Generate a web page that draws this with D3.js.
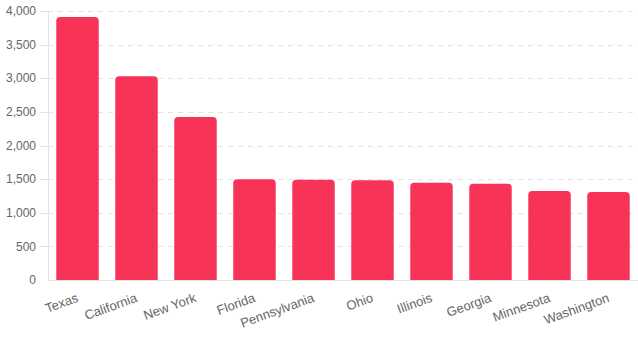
<!DOCTYPE html>
<html>
<head>
<meta charset="utf-8">
<script src="https://cdn.jsdelivr.net/npm/d3@7"></script>
<style>
  body { margin: 0; background: #fff; }
  svg { display: block; font-family: "Liberation Sans", Arial, sans-serif; }
</style>
</head>
<body>
<script>
// Data
const states = ["Texas", "California", "New York", "Florida", "Pennsylvania",
                "Ohio", "Illinois", "Georgia", "Minnesota", "Washington"];
const counts = [3910, 3030, 2425, 1500, 1490, 1485, 1445, 1430, 1325, 1310];
const yTicks = [0, 500, 1000, 1500, 2000, 2500, 3000, 3500, 4000];

const width = 638, height = 341;
const margin = { top: 11, right: 0, bottom: 61, left: 48 };

const svg = d3.select("body").append("svg")
    .attr("width", width)
    .attr("height", height);

const x = d3.scaleBand()
    .domain(states)
    .range([margin.left, width - margin.right])
    .paddingInner(0.28)
    .paddingOuter(0.14);

const y = d3.scaleLinear()
    .domain([0, 4000])
    .range([height - margin.bottom, margin.top]);

// Grid + small ticks left of the axis
const grid = svg.append("g");
grid.selectAll("line.grid")
    .data(yTicks.filter(d => d > 0))
    .join("line")
    .attr("class", "grid")
    .attr("x1", margin.left)
    .attr("x2", width)
    .attr("y1", d => Math.round(y(d)) + 0.5)
    .attr("y2", d => Math.round(y(d)) + 0.5)
    .attr("stroke", "#e3e3e3")
    .attr("stroke-dasharray", "5,5");
grid.selectAll("line.tick")
    .data(yTicks.filter(d => d > 0))
    .join("line")
    .attr("class", "tick")
    .attr("x1", margin.left - 8)
    .attr("x2", margin.left)
    .attr("y1", d => Math.round(y(d)) + 0.5)
    .attr("y2", d => Math.round(y(d)) + 0.5)
    .attr("stroke", "#e3e3e3");

// Bars (rounded top)
const r = 4;
svg.append("g")
    .selectAll("path")
    .data(states)
    .join("path")
    .attr("fill", "#f73358")
    .attr("d", (d, i) => {
        const x0 = x(d), x1 = x(d) + x.bandwidth();
        const y0 = y(0), y1 = y(counts[i]);
        return `M${x0},${y0}V${y1 + r}Q${x0},${y1} ${x0 + r},${y1}H${x1 - r}Q${x1},${y1} ${x1},${y1 + r}V${y0}Z`;
    });

// Axes lines
svg.append("line")
    .attr("x1", margin.left + 0.5).attr("x2", margin.left + 0.5)
    .attr("y1", margin.top).attr("y2", y(0))
    .attr("stroke", "#e3e3e3");
svg.append("line")
    .attr("x1", margin.left).attr("x2", width)
    .attr("y1", Math.round(y(0)) + 0.5).attr("y2", Math.round(y(0)) + 0.5)
    .attr("stroke", "#e3e3e3");

// Y labels
const fmt = d3.format(",");
svg.append("g")
    .selectAll("text")
    .data(yTicks)
    .join("text")
    .attr("x", margin.left - 12)
    .attr("y", d => y(d))
    .attr("dy", "0.35em")
    .attr("text-anchor", "end")
    .attr("fill", "#666")
    .attr("font-size", 12)
    .text(d => fmt(d));

// X labels
svg.append("g")
    .selectAll("text")
    .data(states)
    .join("text")
    .attr("transform", d => `translate(${x(d) + x.bandwidth() / 2},${y(0) + 17}) rotate(-20)`)
    .attr("text-anchor", "end")
    .attr("dy", "0.35em")
    .attr("fill", "#666")
    .attr("font-size", 13)
    .text(d => d);
</script>
</body>
</html>
